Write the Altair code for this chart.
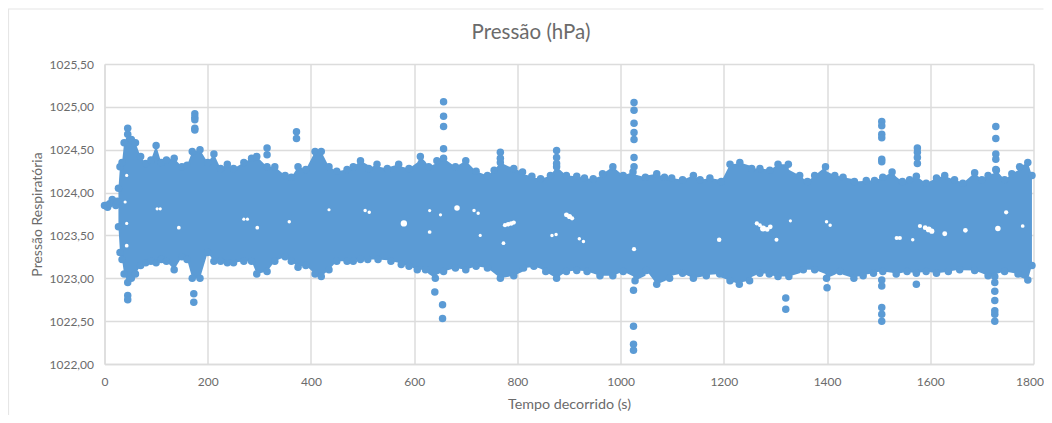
import altair as alt
import pandas as pd

# Start of the recording, before the band opens
start_x = [0, 3, 6, 10, 15, 18, 22, 25]
start_y = [1023.85, 1023.85, 1023.83, 1023.87, 1023.92, 1023.88, 1023.85, 1023.9]

# Upper edge of the dense band
top_x = [27, 30, 34, 38, 45, 52, 60, 70, 80, 90, 100, 110, 120, 135, 150, 160, 170, 185, 200, 212, 225, 238, 250, 270, 285, 295, 315, 330, 350, 362, 375, 390, 408, 420, 435, 450, 470, 482, 496, 512, 528, 548, 570, 590, 612, 628, 644, 657, 680, 700, 720, 742, 755, 767, 793, 810, 828, 845, 864, 876, 895, 915, 930, 947, 965, 985, 1005, 1024, 1048, 1070, 1085, 1099, 1120, 1141, 1154, 1173, 1195, 1212, 1231, 1254, 1270, 1289, 1305, 1325, 1347, 1362, 1376, 1397, 1415, 1431, 1453, 1476, 1492, 1508, 1526, 1546, 1560, 1573, 1592, 1612, 1628, 1647, 1663, 1686, 1700, 1712, 1728, 1744, 1758, 1773, 1789, 1797]
top_y = [1024.05, 1024.3, 1024.35, 1024.58, 1024.68, 1024.62, 1024.58, 1024.42, 1024.34, 1024.38, 1024.55, 1024.35, 1024.38, 1024.4, 1024.3, 1024.32, 1024.48, 1024.5, 1024.35, 1024.45, 1024.28, 1024.33, 1024.28, 1024.35, 1024.4, 1024.42, 1024.3, 1024.3, 1024.2, 1024.18, 1024.3, 1024.27, 1024.48, 1024.48, 1024.3, 1024.25, 1024.27, 1024.3, 1024.37, 1024.28, 1024.33, 1024.28, 1024.33, 1024.28, 1024.42, 1024.3, 1024.37, 1024.4, 1024.3, 1024.37, 1024.25, 1024.2, 1024.26, 1024.35, 1024.28, 1024.24, 1024.19, 1024.16, 1024.2, 1024.3, 1024.2, 1024.19, 1024.17, 1024.16, 1024.22, 1024.3, 1024.2, 1024.24, 1024.18, 1024.22, 1024.18, 1024.17, 1024.15, 1024.2, 1024.15, 1024.17, 1024.13, 1024.33, 1024.35, 1024.28, 1024.28, 1024.26, 1024.33, 1024.33, 1024.2, 1024.13, 1024.2, 1024.3, 1024.2, 1024.18, 1024.13, 1024.14, 1024.14, 1024.18, 1024.24, 1024.13, 1024.15, 1024.19, 1024.11, 1024.17, 1024.2, 1024.15, 1024.11, 1024.23, 1024.15, 1024.2, 1024.26, 1024.15, 1024.22, 1024.3, 1024.35, 1024.2]

# Lower edge of the dense band
bot_x = [27, 30, 34, 38, 45, 52, 60, 70, 80, 90, 100, 110, 120, 135, 150, 160, 170, 185, 200, 212, 225, 238, 250, 270, 285, 295, 315, 330, 350, 362, 375, 390, 408, 420, 435, 450, 470, 482, 496, 510, 530, 555, 575, 590, 606, 622, 641, 657, 680, 700, 720, 742, 767, 793, 812, 832, 855, 876, 895, 915, 935, 960, 985, 1005, 1028, 1050, 1070, 1095, 1120, 1141, 1166, 1192, 1212, 1230, 1250, 1270, 1288, 1305, 1326, 1354, 1376, 1399, 1425, 1452, 1470, 1490, 1508, 1534, 1555, 1573, 1592, 1612, 1635, 1657, 1686, 1712, 1725, 1744, 1770, 1789, 1797]
bot_y = [1023.6, 1023.3, 1023.22, 1023.05, 1022.95, 1023.0, 1023.05, 1023.15, 1023.18, 1023.2, 1023.18, 1023.22, 1023.2, 1023.1, 1023.25, 1023.22, 1023.0, 1023.0, 1023.3, 1023.2, 1023.2, 1023.18, 1023.18, 1023.2, 1023.2, 1023.05, 1023.08, 1023.2, 1023.25, 1023.2, 1023.13, 1023.15, 1023.05, 1023.02, 1023.1, 1023.2, 1023.2, 1023.2, 1023.22, 1023.22, 1023.22, 1023.2, 1023.16, 1023.14, 1023.1, 1023.1, 1023.0, 1023.08, 1023.12, 1023.1, 1023.14, 1023.12, 1023.0, 1023.03, 1023.12, 1023.14, 1023.08, 1023.0, 1023.08, 1023.09, 1023.08, 1023.03, 1023.03, 1023.08, 1022.97, 1023.09, 1022.93, 1023.0, 1023.06, 1023.0, 1023.03, 1023.05, 1022.97, 1022.93, 1022.97, 1023.06, 1023.05, 1023.02, 1023.02, 1023.1, 1023.1, 1023.0, 1023.08, 1023.0, 1023.03, 1023.06, 1023.08, 1023.05, 1023.08, 1023.06, 1023.08, 1023.06, 1023.08, 1023.1, 1023.09, 1023.03, 1023.02, 1023.08, 1023.05, 1022.98, 1023.15]

# Isolated readings outside the band
out_x = [45, 45, 45, 175, 175, 175, 175, 175, 173, 173, 315, 315, 372, 372, 640, 657, 657, 657, 657, 655, 655, 767, 767, 876, 876, 876, 1026, 1026, 1026, 1026, 1026, 1026, 1026, 1025, 1025, 1025, 1025, 1320, 1320, 1400, 1506, 1506, 1506, 1506, 1506, 1506, 1506, 1506, 1506, 1506, 1506, 1575, 1575, 1575, 1575, 1573, 1727, 1727, 1727, 1727, 1727, 1725, 1725, 1725, 1725, 1725, 1725]
out_y = [1024.75, 1022.8, 1022.75, 1024.92, 1024.88, 1024.85, 1024.75, 1024.73, 1022.82, 1022.72, 1024.52, 1024.44, 1024.71, 1024.63, 1022.84, 1025.06, 1024.89, 1024.77, 1024.51, 1022.69, 1022.53, 1024.47, 1024.4, 1024.49, 1024.41, 1024.34, 1025.05, 1024.96, 1024.81, 1024.7, 1024.62, 1024.41, 1024.3, 1022.86, 1022.44, 1022.23, 1022.16, 1022.77, 1022.64, 1022.89, 1024.83, 1024.78, 1024.68, 1024.64, 1024.39, 1024.36, 1022.98, 1022.91, 1022.66, 1022.58, 1022.5, 1024.52, 1024.47, 1024.41, 1024.34, 1022.93, 1024.77, 1024.63, 1024.45, 1024.39, 1024.27, 1022.95, 1022.85, 1022.74, 1022.62, 1022.58, 1022.5]

# Small gaps inside the band
gap_x = [580, 776, 782, 788, 793, 895, 901, 906, 683, 716, 724, 505, 513, 867, 875, 920, 928, 630, 651, 773, 1026, 728, 630, 1276, 1264, 1270, 1284, 1290, 1191, 1302, 1399, 1406, 1535, 1541, 1590, 1597, 1603, 1580, 1628, 1731, 1747, 1668, 1779, 1566, 1329, 102, 108, 270, 277, 435, 43, 43, 43, 144, 296, 358, 40]
gap_y = [1023.64, 1023.62, 1023.63, 1023.64, 1023.65, 1023.74, 1023.72, 1023.7, 1023.82, 1023.79, 1023.76, 1023.79, 1023.77, 1023.5, 1023.51, 1023.46, 1023.43, 1023.54, 1023.74, 1023.41, 1023.34, 1023.5, 1023.79, 1023.58, 1023.64, 1023.62, 1023.57, 1023.6, 1023.45, 1023.45, 1023.66, 1023.62, 1023.47, 1023.47, 1023.59, 1023.57, 1023.55, 1023.61, 1023.52, 1023.58, 1023.77, 1023.56, 1023.61, 1023.45, 1023.67, 1023.81, 1023.81, 1023.69, 1023.69, 1023.8, 1024.2, 1023.38, 1023.64, 1023.59, 1023.59, 1023.66, 1023.89]
gap_s = [40, 18, 20, 20, 18, 24, 26, 18, 30, 12, 12, 12, 12, 12, 12, 12, 12, 14, 10, 14, 18, 10, 10, 36, 18, 14, 22, 22, 20, 16, 12, 12, 18, 18, 22, 34, 26, 18, 24, 30, 18, 22, 14, 12, 10, 10, 10, 10, 10, 10, 10, 14, 10, 14, 14, 12, 10]

BLUE = "#5b9bd5"
GRID = "#dcdcdc"
TEXT = "#6b6b6b"
FONT = "Lato"

X = alt.Scale(domain=[0, 1800], nice=False)
Y = alt.Scale(domain=[1022, 1025.5], nice=False)

x_axis = alt.Axis(title="Tempo decorrido (s)", values=list(range(0, 1801, 200)), tickSize=0, labelPadding=12,
                  format="d", titlePadding=10, grid=True, gridColor=GRID, gridWidth=1.5, domainColor=GRID,
                  domainWidth=1.5, labelColor=TEXT, titleColor=TEXT, labelFont=FONT, titleFont=FONT, labelFontSize=12,
                  titleFontSize=14.3, titleFontWeight="normal", labelFlush=False,
                  labelOffset={"condition": {"test": "datum.value == 1800", "value": -4}, "value": 0})
y_axis = alt.Axis(title="Pressão Respiratória", values=[1022 + i * 0.5 for i in range(8)], tickSize=0, labelPadding=11,
                  labelExpr="replace(format(datum.value, '.2f'), '.', ',')", titlePadding=5, grid=True,
                  gridColor=GRID, gridWidth=1.5, domainColor=GRID, domainWidth=1.5, labelColor=TEXT, titleColor=TEXT,
                  labelFont=FONT, titleFont=FONT, labelFontSize=12, titleFontSize=14, titleFontWeight="normal")

top_df = pd.DataFrame({"x": top_x, "top": top_y})
bot_df = pd.DataFrame({"x": bot_x, "bot": bot_y})
band = pd.merge(top_df, bot_df, on="x", how="outer").sort_values("x")
band["top"] = band["top"].interpolate()
band["bot"] = band["bot"].interpolate()

points = pd.DataFrame({"x": start_x + top_x + bot_x + out_x, "y": start_y + top_y + bot_y + out_y})
gaps = pd.DataFrame({"x": gap_x, "y": gap_y, "s": gap_s})

ex = alt.X("x:Q", scale=X, axis=x_axis)
ey = alt.Y("y:Q", scale=Y, axis=y_axis)

area = (
    alt.Chart(band)
    .mark_area(color=BLUE, opacity=1)
    .encode(x=ex, y=alt.Y("top:Q", scale=Y, axis=y_axis), y2="bot:Q")
)
dots = alt.Chart(points).mark_circle(color=BLUE, opacity=1, size=56).encode(x=ex, y=ey)
holes = (
    alt.Chart(gaps)
    .mark_circle(color="white", opacity=1)
    .encode(x=ex, y=ey, size=alt.Size("s:Q", scale=None, legend=None))
)
one = pd.DataFrame({"a": [0]})
frame_top = alt.Chart(one).mark_rule(color="#e6e6e6", strokeWidth=1.2).encode(
    x=alt.value(-97), x2=alt.value(939), y=alt.value(-55))
frame_left = alt.Chart(one).mark_rule(color="#e6e6e6", strokeWidth=1.2).encode(
    x=alt.value(-96), x2=alt.value(-96), y=alt.value(-55), y2=alt.value(351))
title = alt.Chart(one).mark_text(
    text="Pressão (hPa)", font=FONT, fontSize=20.5, color=TEXT, align="center", baseline="middle"
).encode(x=alt.value(426.5), y=alt.value(-31))

chart = (
    alt.layer(area, dots, holes, frame_top, frame_left, title)
    .properties(
        width=929,
        height=300,
        padding={"left": 96.5, "top": 56, "right": 10, "bottom": 51},
        autosize=alt.AutoSizeParams(type="none"),
    )
    .configure_view(stroke=None)
)
chart.save("out.html", embed_options={"renderer": "svg", "actions": False})
